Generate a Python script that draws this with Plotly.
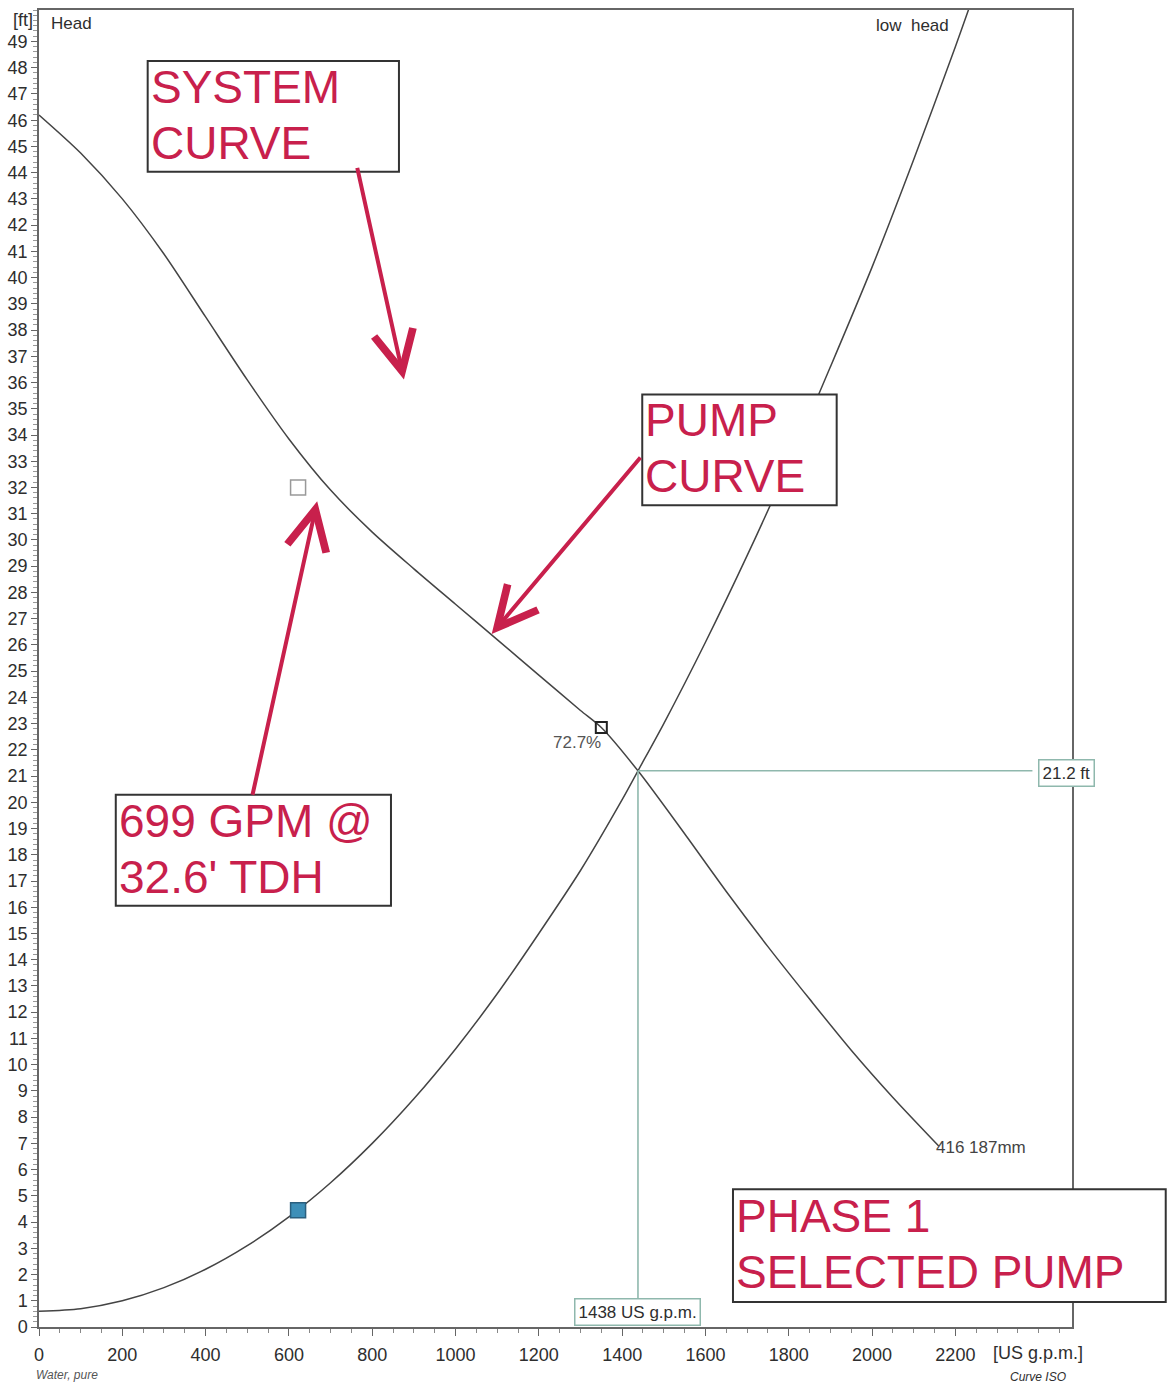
import plotly.graph_objects as go

# ---------------- data ----------------
system_flow = [0, 100, 200, 300, 400, 500, 600, 700, 800, 900, 1000, 1100, 1200,
               1300, 1400, 1438, 1500, 1600, 1700, 1800, 1900, 2000, 2100, 2200, 2260]
system_head = [0.6, 0.7, 1.0, 1.5, 2.2, 3.1, 4.2, 5.5, 7.0, 8.7, 10.6, 12.7, 15.0,
               17.4, 20.1, 21.2, 23.0, 26.1, 29.4, 32.9, 36.6, 40.4, 44.5, 48.8, 51.5]

pump_flow = [0, 100, 200, 300, 400, 500, 600, 700, 800, 900, 1000, 1100, 1200, 1300,
             1350, 1438, 1550, 1650, 1750, 1850, 1950, 2050, 2160]
pump_head = [46.2, 44.75, 43.0, 40.9, 38.5, 36.1, 33.85, 31.9, 30.3, 28.9, 27.55, 26.2, 24.85, 23.5,
             22.85, 21.2, 18.8, 16.6, 14.5, 12.5, 10.55, 8.75, 6.9]

op_flow, op_head = 1438, 21.2          # operating point
eff_flow, eff_head, eff_label = 1350, 22.85, "72.7%"
duty_flow, duty_head = 622, 32.0       # requested duty marker
low_flow, low_head = 622, 4.45         # blue marker on system curve

x_ticks = [0, 200, 400, 600, 800, 1000, 1200, 1400, 1600, 1800, 2000, 2200]
y_ticks = list(range(0, 50))

RED = "#c8204c"
TXT = "#2e2e2e"
TEAL = "#8fb8ad"

# pixel -> paper helpers (layout positioning only)
def PX(x):
    return (x - 36) / 1036.0

def PY(y):
    return (1327 - y) / 1319.0

fig = go.Figure()

fig.add_trace(go.Scatter(x=system_flow, y=system_head, mode="lines",
                         line=dict(color="#444444", width=1.5, shape="spline", smoothing=0.8),
                         hoverinfo="skip", showlegend=False))
fig.add_trace(go.Scatter(x=pump_flow, y=pump_head, mode="lines",
                         line=dict(color="#444444", width=1.5, shape="spline", smoothing=0.8),
                         hoverinfo="skip", showlegend=False))

# crosshair at operating point
fig.add_trace(go.Scatter(x=[op_flow, 2385], y=[op_head, op_head], mode="lines",
                         line=dict(color=TEAL, width=1.6), hoverinfo="skip", showlegend=False))
fig.add_trace(go.Scatter(x=[op_flow, op_flow], y=[op_head, 1.1], mode="lines",
                         line=dict(color=TEAL, width=1.6), hoverinfo="skip", showlegend=False))

# markers
fig.add_trace(go.Scatter(x=[eff_flow], y=[eff_head], mode="markers",
                         marker=dict(symbol="square-open", size=11, color="#222222",
                                     line=dict(width=2)),
                         hoverinfo="skip", showlegend=False))
fig.add_trace(go.Scatter(x=[duty_flow], y=[duty_head], mode="markers",
                         marker=dict(symbol="square-open", size=15, color="#999999",
                                     line=dict(width=1.5)),
                         hoverinfo="skip", showlegend=False))
fig.add_trace(go.Scatter(x=[low_flow], y=[low_head], mode="markers",
                         marker=dict(symbol="square", size=15, color="#3d8fb8",
                                     line=dict(color="#2a5f7e", width=1.5)),
                         hoverinfo="skip", showlegend=False))

# white boxes for the red notes (above the curves)
boxes = [(145, 59, 397, 170), (641, 393, 836, 504), (113, 794, 389, 905), (732, 1189, 1166, 1302)]
shapes = []
for (x0, y0, x1, y1) in boxes:
    shapes.append(dict(type="rect", xref="paper", yref="paper",
                       x0=PX(x0), x1=PX(x1), y0=PY(y1), y1=PY(y0),
                       line=dict(color="#333333", width=2), fillcolor="white", layer="above"))

annotations = []

def note(text, x, y, size=46, color=RED, xanchor="left", **kw):
    annotations.append(dict(text=text, x=PX(x), y=PY(y), xref="paper", yref="paper",
                            showarrow=False, xanchor=xanchor, yanchor="middle",
                            font=dict(family="Liberation Sans, Arial", size=size, color=color), **kw))

note("SYSTEM", 146, 85)
note("CURVE", 146, 141)
note("PUMP", 642, 419)
note("CURVE", 642, 475)
note("699 GPM @", 114, 820)
note("32.6' TDH", 114, 876)
note("PHASE 1", 733, 1216)
note("SELECTED PUMP", 733, 1272)

note("[ft]", 20, 18, size=18, color=TXT, xanchor="center")
note("Head", 46, 22, size=17, color=TXT)
note("low  head", 951, 24, size=17, color=TXT, xanchor="right")
note(eff_label, 602, 742, size=17, color="#555555", xanchor="right")
note("416 187mm", 934, 1147, size=17, color="#444444")
note("[US g.p.m.]", 991, 1353, size=18, color=TXT)
note("<i>Curve ISO</i>", 1038, 1377, size=12, color=TXT, xanchor="center")
note("<i>Water, pure</i>", 31, 1375, size=12, color="#555555")

# operating-point value boxes
for text, x, y in [(f"{op_head} ft", 1066, 772), (f"{op_flow} US g.p.m.", 636, 1312)]:
    annotations.append(dict(text=text, x=PX(x), y=PY(y), xref="paper", yref="paper",
                            showarrow=False, xanchor="center", yanchor="middle",
                            bgcolor="white", bordercolor=TEAL, borderwidth=1.5, borderpad=3,
                            font=dict(family="Liberation Sans, Arial", size=17, color=TXT)))

# hand-drawn style red arrows (tip, tail in pixels)
for (tx, ty, sx, sy) in [(402, 378, 355, 165), (490, 633, 640, 455), (315, 500, 250, 795)]:
    annotations.append(dict(text="", x=PX(tx), y=PY(ty), xref="paper", yref="paper",
                            ax=sx - tx, ay=sy - ty, showarrow=True, arrowhead=5,
                            arrowsize=1.95, arrowwidth=4, arrowcolor=RED, standoff=0))

axis_font = dict(family="Liberation Sans, Arial", size=18, color=TXT)

fig.update_layout(
    width=1168, height=1395,
    margin=dict(l=36, r=96, t=8, b=68),
    paper_bgcolor="white", plot_bgcolor="white",
    shapes=shapes, annotations=annotations,
    xaxis=dict(range=[0, 2480], tickmode="array", tickvals=x_ticks,
               ticktext=[str(v) for v in x_ticks], tickfont=axis_font,
               ticks="outside", ticklen=7, tickcolor="#666666", tickwidth=1.2,
               minor=dict(tick0=0, dtick=50, ticks="outside", ticklen=4, tickcolor="#888888"),
               showline=True, linecolor="#666666", linewidth=1.5, mirror=True,
               showgrid=False, zeroline=False, ticklabelstandoff=4),
    yaxis=dict(range=[0, 50.2], tickmode="array", tickvals=y_ticks,
               ticktext=[str(v) for v in y_ticks], tickfont=axis_font,
               ticks="outside", ticklen=6, tickcolor="#666666", tickwidth=1.2,
               minor=dict(tick0=0, dtick=0.2, ticks="outside", ticklen=4, tickcolor="#999999"),
               showline=True, linecolor="#666666", linewidth=1.5, mirror=True,
               showgrid=False, zeroline=False),
)

fig.write_html("out.html", config={"displayModeBar": False},
               post_script="document.body.style.margin='0';document.body.style.overflow='hidden';")
